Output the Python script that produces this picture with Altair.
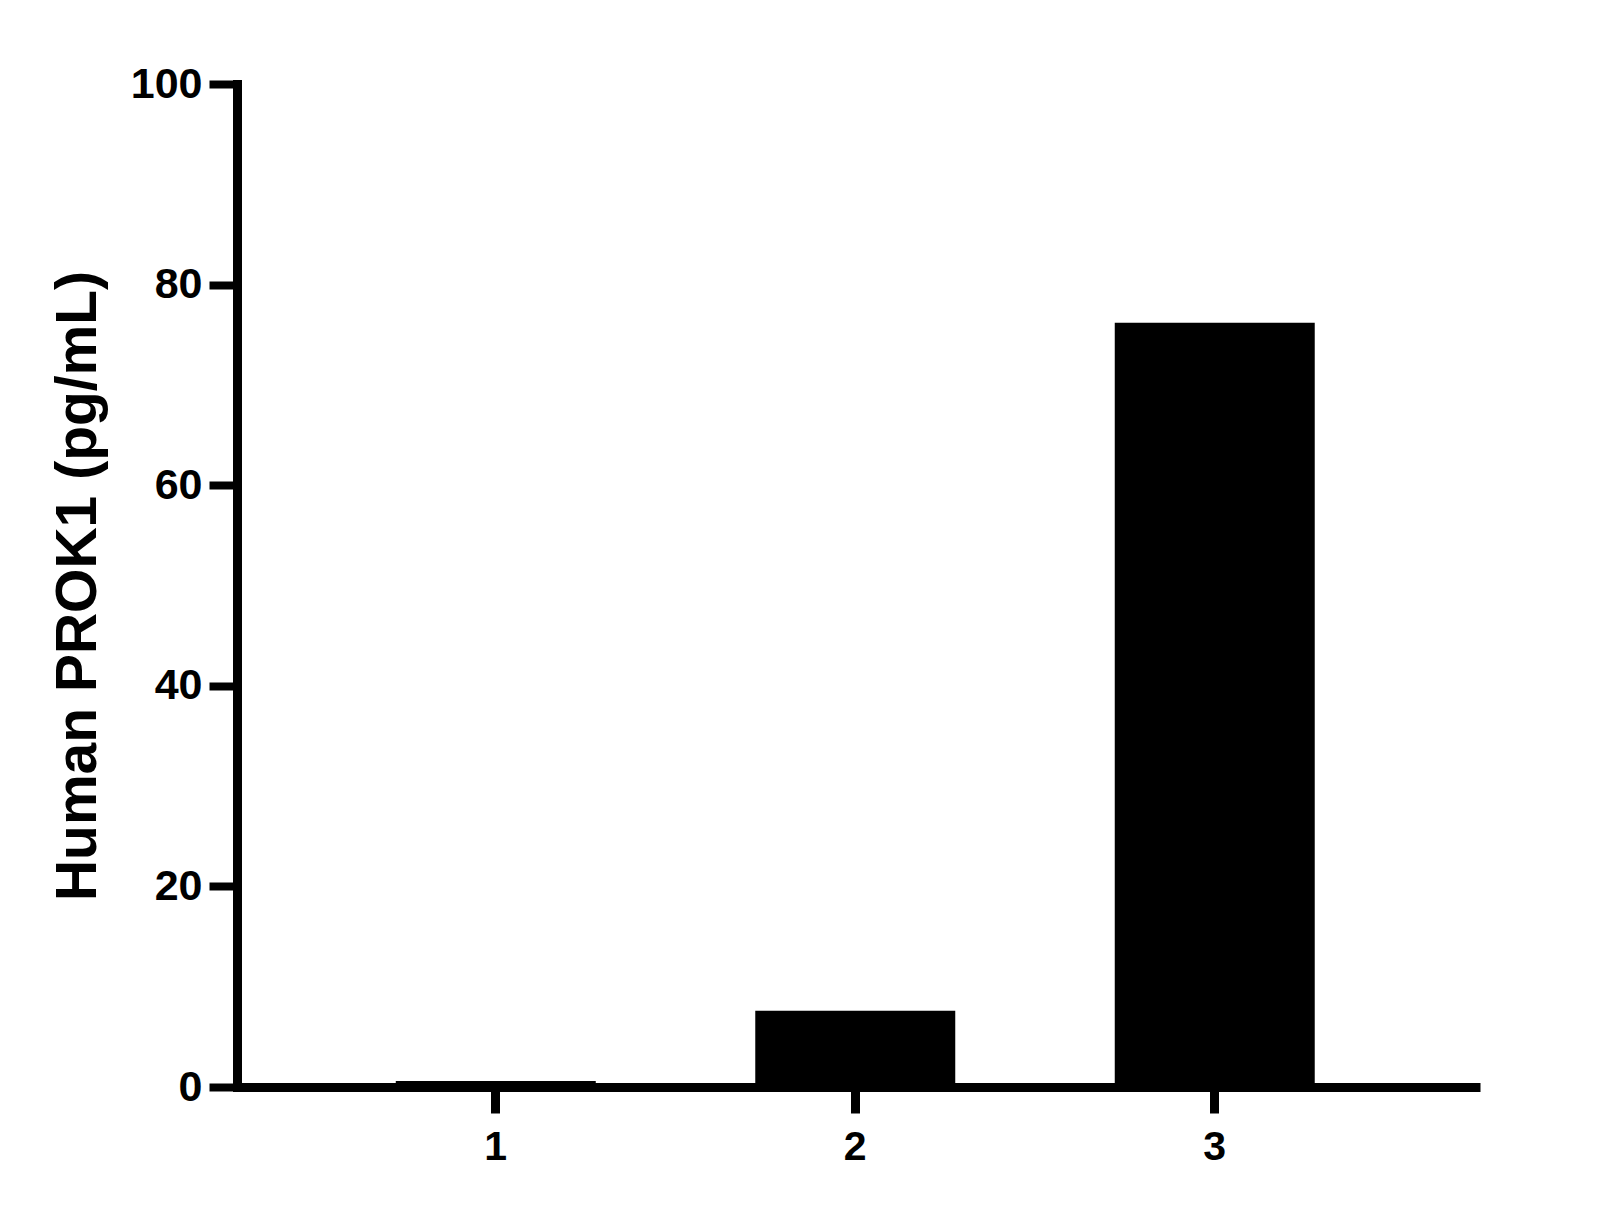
import altair as alt
import pandas as pd

categories = ["1", "2", "3"]
values = [0.6, 7.6, 76.2]
y_ticks = [0, 20, 40, 60, 80, 100]

df = pd.DataFrame({"cat": categories, "val": values})

FONT = "Liberation Sans"

chart = alt.Chart(df).mark_bar(color="black").encode(
    x=alt.X(
        "cat:N",
        sort=categories,
        scale=alt.Scale(paddingInner=0.4437, paddingOuter=0.4507, align=0.49),
        axis=alt.Axis(
            title=None,
            labelAngle=0,
            labelFont=FONT,
            labelFontWeight="bold",
            labelFontSize=41,
            labelColor="black",
            labelPadding=14,
            domainColor="black",
            domainWidth=9,
            tickColor="black",
            tickWidth=9,
            tickSize=26,
            grid=False,
        ),
    ),
    y=alt.Y(
        "val:Q",
        scale=alt.Scale(domain=[0, 100], nice=False),
        axis=alt.Axis(
            title="Human PROK1 (pg/mL)",
            titleFont=FONT,
            titleFontWeight="bold",
            titleFontSize=57,
            titleColor="black",
            titleBaseline="alphabetic",
            titleX=-142,
            values=y_ticks,
            labelFont=FONT,
            labelFontWeight="bold",
            labelFontSize=43,
            labelColor="black",
            labelPadding=7,
            domainColor="black",
            domainWidth=9,
            domainCap="square",
            tickColor="black",
            tickWidth=8,
            tickSize=28,
            grid=False,
        ),
    ),
).properties(
    width=1243,
    height=1003,
    autosize=alt.AutoSizeParams(type="none"),
    padding={"left": 229, "top": 76, "right": 100, "bottom": 100},
    background="white",
).configure_view(stroke=None)

chart.save("out.html", embed_options={"renderer": "svg", "actions": False})
